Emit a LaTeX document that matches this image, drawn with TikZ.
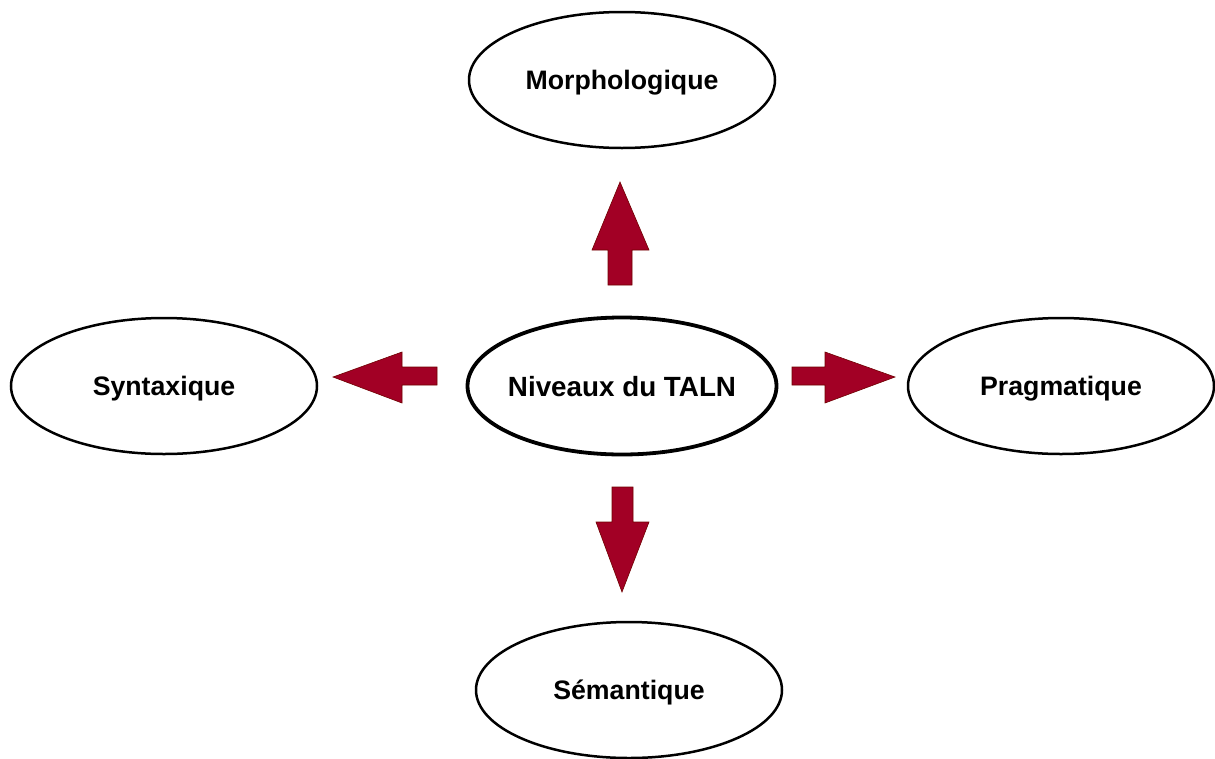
\documentclass[tikz,border=0pt]{standalone}
\usepackage{fontspec}
\setmainfont{Liberation Sans}
\usetikzlibrary{shapes.geometric}
\definecolor{arrowred}{HTML}{A20025}
\definecolor{arrowdark}{HTML}{6F0000}
\tikzset{
  lvl/.style={ellipse, draw=black, line width=2.5pt, fill=white,
    minimum width=306pt, minimum height=136pt, inner xsep=-30pt, inner ysep=0pt,
    text depth=0pt,
    font=\bfseries\fontsize{26.7}{32}\selectfont},
  mainlvl/.style={lvl, line width=3.8pt, minimum width=309pt, minimum height=137pt,
    font=\bfseries\fontsize{27.8}{33}\selectfont},
  blockarrow/.style={fill=arrowred, draw=arrowdark, line width=0.6pt, line join=miter}
}
\begin{document}
\begin{tikzpicture}[x=1pt, y=-1pt]
\useasboundingbox (0,0) rectangle (1215,758);
\node[mainlvl] (c) at (622,386) {Niveaux du TALN};
\node[lvl] (m) at (622,80) {Morphologique};
\node[lvl] (s) at (164,386) {Syntaxique};
\node[lvl] (p) at (1061,386) {Pragmatique};
\node[lvl] (e) at (629,690) {Sémantique};
% up arrow
\path[blockarrow] (608,285) -- (608,250) -- (592,250) -- (620,182) -- (649,250) -- (632,250) -- (632,285) -- cycle;
% down arrow
\path[blockarrow] (612,487) -- (633,487) -- (633,522) -- (649,522) -- (622,592) -- (596,522) -- (612,522) -- cycle;
% left arrow
\path[blockarrow] (437,367) -- (402,367) -- (402,352) -- (333,377) -- (402,403) -- (402,385) -- (437,385) -- cycle;
% right arrow
\path[blockarrow] (792,367) -- (825,367) -- (825,352) -- (895,377) -- (825,403) -- (825,385) -- (792,385) -- cycle;
\end{tikzpicture}
\end{document}
